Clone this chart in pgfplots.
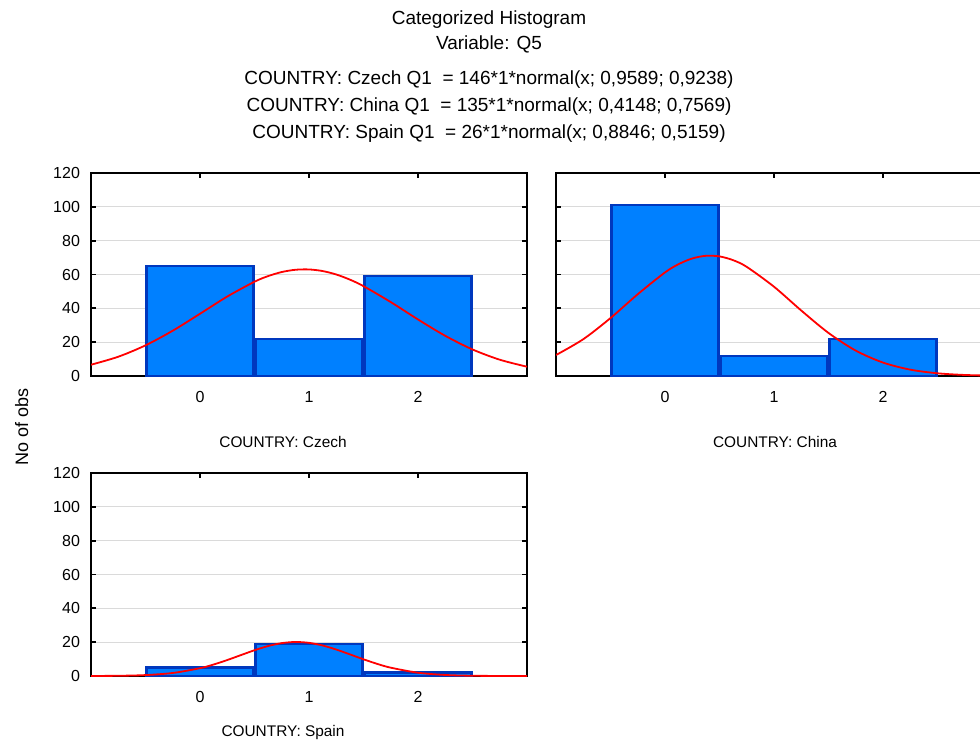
\documentclass[border=0pt]{standalone}
\usepackage{fontspec}
\setmainfont{Liberation Sans}
\usepackage{pgfplots}
\pgfplotsset{compat=1.18}
\definecolor{barfill}{RGB}{0,128,255}
\definecolor{baredge}{RGB}{0,56,190}
\definecolor{gridc}{RGB}{218,218,218}
\pgfplotsset{
  panel/.style={
    scale only axis, width=218pt, height=101.5pt, anchor=south west,
    xmin=-1, xmax=3, ymin=0, ymax=120,
    xtick={0,1,2}, ytick={0,20,...,120},
    tick align=inside, xtick pos=both, ytick pos=both,
    major tick length=2.5pt,
    every tick/.style={black, line width=0.9pt},
    axis line style={line width=1pt},
    ymajorgrids, grid style={gridc, line width=0.5pt},
    /pgf/number format/assume math mode=true,
    tick label style={font=\fontsize{8}{9.5}\selectfont},
    xticklabel style={yshift=-4.3pt},
    yticklabel style={xshift=-2pt},
  },
  mybars/.style={ybar, bar width=0.985, bar shift=0pt, fill=barfill, draw=baredge, line width=1.2pt},
  mycurve/.style={red, line width=0.9pt, smooth, mark=none},
}
\begin{document}
\begin{tikzpicture}
\useasboundingbox (0,0) rectangle (490pt,375.5pt);
% titles
\node[anchor=base, font=\fontsize{9.5}{11}\selectfont] at (244.5pt,363pt) {Categorized Histogram};
\node[anchor=base, font=\fontsize{9.5}{11}\selectfont] at (244.5pt,350.5pt) {Variable: Q5};
\node[anchor=base, font=\fontsize{9.5}{11}\selectfont] at (244.5pt,333pt) {COUNTRY: Czech Q1 \ = 146*1*normal(x; 0,9589; 0,9238)};
\node[anchor=base, font=\fontsize{9.5}{11}\selectfont] at (244.5pt,319.5pt) {COUNTRY: China Q1 \ = 135*1*normal(x; 0,4148; 0,7569)};
\node[anchor=base, font=\fontsize{9.5}{11}\selectfont] at (244.5pt,306pt) {COUNTRY: Spain Q1 \ = 26*1*normal(x; 0,8846; 0,5159)};
\node[anchor=base, rotate=90, font=\fontsize{9}{10}\selectfont] at (14pt,162pt) {No of obs};
% Czech
\begin{axis}[panel, at={(45.5pt,187.5pt)}]
\addplot[mybars] coordinates {(0,65) (1,22) (2,59)};
\addplot[mycurve] coordinates {
(-1,6.66) (-0.75,11.39) (-0.5,18.12) (-0.25,26.78) (0,36.79) (0.25,46.97)
(0.5,55.73) (0.625,59.06) (0.75,61.46) (0.875,62.79) (1,62.99) (1.125,62.04)
(1.25,60.00) (1.375,56.97) (1.5,53.11) (1.75,43.70)
(2,33.42) (2.25,23.75) (2.5,15.69) (2.75,9.63) (3,5.49)};
\end{axis}
\node[anchor=base, font=\fontsize{7.7}{9}\selectfont] at (141.5pt,152pt) {COUNTRY: Czech};
% China
\begin{axis}[panel, at={(278pt,187.5pt)}, yticklabels={}]
\addplot[mybars] coordinates {(0,101) (1,12) (2,22)};
\addplot[mycurve] coordinates {
(-1,12.39) (-0.75,21.75) (-0.5,34.25) (-0.25,48.35) (0,61.23) (0.125,66.12)
(0.25,69.48) (0.375,71.05) (0.5,70.70) (0.625,68.46) (0.75,64.50) (1,52.77)
(1.25,38.71) (1.5,25.45) (1.75,15.01) (2,7.94) (2.25,3.76) (2.5,1.60)
(2.75,0.61) (3,0.21)};
\end{axis}
\node[anchor=base, font=\fontsize{7.7}{9}\selectfont] at (387.5pt,152pt) {COUNTRY: China};
% Spain
\begin{axis}[panel, at={(45.5pt,37.5pt)}]
\addplot[mybars] coordinates {(0,5) (1,19) (2,2)};
\addplot[mycurve] coordinates {
(-1,0.03) (-0.75,0.13) (-0.5,0.55) (-0.25,1.79) (0,4.62) (0.125,6.80)
(0.25,9.44) (0.375,12.35) (0.5,15.23) (0.625,17.72) (0.75,19.44) (0.875,20.11)
(1,19.61) (1.125,18.04) (1.25,15.65) (1.375,12.80) (1.5,9.87) (1.625,7.18)
(1.75,4.92) (2,1.94) (2.25,0.61) (2.5,0.15) (2.75,0.03) (3,0.01)};
\end{axis}
\node[anchor=base, font=\fontsize{7.7}{9}\selectfont] at (141.5pt,7.5pt) {COUNTRY: Spain};
\end{tikzpicture}
\end{document}
